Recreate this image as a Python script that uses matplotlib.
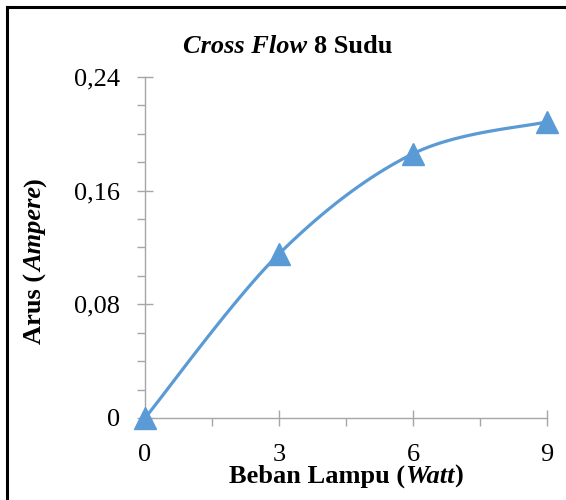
import numpy as np
import matplotlib
matplotlib.use("Agg")
import matplotlib.pyplot as plt
from matplotlib.lines import Line2D
from matplotlib.ticker import FixedLocator, MultipleLocator

# Data
beban = [0, 3, 6, 9]
arus = [0.0, 0.1155, 0.186, 0.2085]
x_ticks = [0, 3, 6, 9]
y_ticks = [0, 0.08, 0.16, 0.24]
y_labels = ["0", "0,08", "0,16", "0,24"]

plt.rcParams['font.family'] = ['Liberation Serif', 'DejaVu Serif']
blue = '#5B9BD5'
grey = '#A6A6A6'
W, H = 566, 500
FS = 19


def excel_smooth(x, y, n=40):
    # Catmull-Rom style bezier like Excel's smoothed line
    x = np.asarray(x, float)
    y = np.asarray(y, float)
    pts = np.column_stack([x, y])
    out = []
    for i in range(len(pts) - 1):
        p0 = pts[i - 1] if i > 0 else pts[i]
        p1 = pts[i]
        p2 = pts[i + 1]
        p3 = pts[i + 2] if i + 2 < len(pts) else pts[i + 1]
        c1 = p1 + (p2 - p0) / 6.0
        c2 = p2 - (p3 - p1) / 6.0
        t = np.linspace(0, 1, n)[:, None]
        seg = ((1 - t) ** 3 * p1 + 3 * (1 - t) ** 2 * t * c1
               + 3 * (1 - t) * t ** 2 * c2 + t ** 3 * p2)
        out.append(seg if i == 0 else seg[1:])
    out = np.vstack(out)
    return out[:, 0], out[:, 1]


def mixed_text(fig, parts, x, y, center, vertical=False):
    # parts: list of (string, italic); all bold. x,y in pixels from top-left,
    # center along the reading direction, (x or y) is the baseline.
    rot = 90 if vertical else 0
    objs = [fig.text(0, 0, s, fontsize=FS, fontweight='bold',
                     fontstyle='italic' if it else 'normal', rotation=rot,
                     rotation_mode='anchor', ha='left', va='baseline')
            for s, it in parts]
    fig.canvas.draw()
    r = fig.canvas.get_renderer()
    if vertical:
        sizes = [o.get_window_extent(r).height for o in objs]
        pos = center + sum(sizes) / 2
        for o, s in zip(objs, sizes):
            o.set_position((x / W, 1 - pos / H))
            pos -= s
    else:
        sizes = [o.get_window_extent(r).width for o in objs]
        pos = center - sum(sizes) / 2
        for o, s in zip(objs, sizes):
            o.set_position((pos / W, 1 - y / H))
            pos += s


fig = plt.figure(figsize=(W / 100, H / 100), dpi=100)
ax = fig.add_axes([145 / W, 1 - 418 / H, (547 - 145) / W, (418 - 77) / H])

sx, sy = excel_smooth(beban, arus)
ax.plot(sx, sy, color=blue, lw=2.3, solid_capstyle='round', zorder=3, clip_on=False)
ax.plot(beban, arus, ls='none', marker='^', ms=16, color=blue, zorder=4, clip_on=False)

ax.set_xlim(0, 9)
ax.set_ylim(0, 0.24)
ax.xaxis.set_major_locator(FixedLocator(x_ticks))
ax.xaxis.set_minor_locator(MultipleLocator(1.5))
ax.yaxis.set_major_locator(FixedLocator(y_ticks))
ax.yaxis.set_minor_locator(MultipleLocator(0.02))
ax.set_yticklabels(y_labels)

for s in ['top', 'right']:
    ax.spines[s].set_visible(False)
for s in ['left', 'bottom']:
    ax.spines[s].set_color(grey)
    ax.spines[s].set_linewidth(1.0)

ax.tick_params(which='major', direction='inout', length=12, width=1.0, color=grey,
               labelsize=FS, pad=12)
ax.tick_params(which='minor', direction='out', length=6, width=1.0, color=grey)
ax.tick_params(axis='x', which='major', pad=13)

# title, axis labels with mixed styles
mixed_text(fig, [('Cross Flow ', True), ('8 Sudu', False)], 0, 53, 288)
mixed_text(fig, [('Beban Lampu (', False), ('Watt', True), (')', False)], 0, 483, 346)
mixed_text(fig, [('Arus (', False), ('Ampere', True), (')', False)], 42, 0, 261,
           vertical=True)

# outer frame (left and top edges visible)
fig.add_artist(Line2D([6.5 / W, 6.5 / W], [0, 1 - 6.5 / H], color='black', lw=2.2,
                      transform=fig.transFigure))
fig.add_artist(Line2D([6.5 / W, 1], [1 - 6.5 / H, 1 - 6.5 / H], color='black', lw=2.2,
                      transform=fig.transFigure))

fig.savefig('out.png', dpi=100)
